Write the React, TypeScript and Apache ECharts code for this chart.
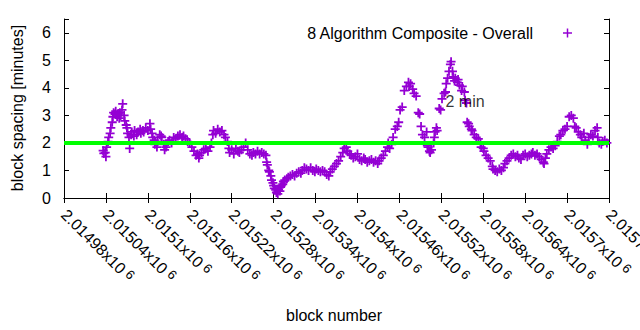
import React, { useEffect, useRef } from "react";
import * as echarts from "echarts";

// ---- data ----
const blocks = [
  2015036, 2015037, 2015039, 2015040, 2015041, 2015043, 2015044, 2015046, 2015047, 2015049,
  2015050, 2015051, 2015053, 2015054, 2015056, 2015057, 2015059, 2015060, 2015061, 2015063,
  2015064, 2015066, 2015067, 2015069, 2015070, 2015071, 2015073, 2015074, 2015076, 2015077,
  2015080, 2015081, 2015084, 2015086, 2015089, 2015090, 2015093, 2015094, 2015097, 2015100,
  2015103, 2015104, 2015106, 2015107, 2015109, 2015110, 2015111, 2015113, 2015114, 2015117,
  2015119, 2015120, 2015123, 2015124, 2015126, 2015127, 2015129, 2015131, 2015134, 2015137,
  2015140, 2015143, 2015146, 2015149, 2015151, 2015154, 2015157, 2015160, 2015163, 2015166,
  2015169, 2015171, 2015173, 2015174, 2015177, 2015180, 2015183, 2015186, 2015189, 2015191,
  2015193, 2015194, 2015197, 2015200, 2015203, 2015206, 2015209, 2015211, 2015214, 2015216,
  2015217, 2015220, 2015223, 2015226, 2015229, 2015231, 2015234, 2015237, 2015240, 2015243,
  2015246, 2015249, 2015251, 2015254, 2015257, 2015260, 2015263, 2015266, 2015269, 2015270,
  2015271, 2015273, 2015274, 2015276, 2015277, 2015279, 2015280, 2015281, 2015283, 2015284,
  2015286, 2015287, 2015289, 2015290, 2015291, 2015293, 2015294, 2015296, 2015299, 2015301,
  2015304, 2015307, 2015310, 2015313, 2015316, 2015319, 2015321, 2015324, 2015327, 2015330,
  2015333, 2015336, 2015339, 2015341, 2015344, 2015347, 2015350, 2015353, 2015356, 2015359,
  2015361, 2015364, 2015367, 2015370, 2015373, 2015376, 2015379, 2015381, 2015384, 2015386,
  2015389, 2015391, 2015394, 2015397, 2015400, 2015403, 2015406, 2015409, 2015411, 2015414,
  2015417, 2015420, 2015423, 2015426, 2015429, 2015431, 2015434, 2015437, 2015440, 2015443,
  2015444, 2015446, 2015449, 2015451, 2015454, 2015457, 2015459, 2015461, 2015464, 2015467,
  2015470, 2015473, 2015474, 2015476, 2015479, 2015481, 2015484, 2015487, 2015489, 2015491,
  2015493, 2015496, 2015499, 2015500, 2015501, 2015503, 2015504, 2015506, 2015509, 2015510,
  2015511, 2015513, 2015514, 2015517, 2015519, 2015521, 2015524, 2015526, 2015527, 2015529,
  2015531, 2015533, 2015534, 2015536, 2015537, 2015539, 2015540, 2015543, 2015544, 2015546,
  2015549, 2015550, 2015553, 2015554, 2015556, 2015557, 2015559, 2015560, 2015563, 2015564,
  2015567, 2015570, 2015573, 2015576, 2015577, 2015580, 2015581, 2015584, 2015587, 2015590,
  2015593, 2015594, 2015597, 2015600, 2015603, 2015606, 2015609, 2015611, 2015614, 2015617,
  2015620, 2015623, 2015626, 2015629, 2015631, 2015634, 2015637, 2015640, 2015643, 2015646,
  2015649, 2015651, 2015654, 2015657, 2015660, 2015663, 2015666, 2015667, 2015669, 2015671,
  2015674, 2015677, 2015680, 2015683, 2015686, 2015689, 2015691, 2015694, 2015697, 2015700,
  2015703, 2015706, 2015709, 2015711, 2015713, 2015716, 2015719, 2015721, 2015724, 2015726,
  2015729, 2015731, 2015734, 2015737, 2015740, 2015743, 2015744, 2015746, 2015749, 2015751,
  2015754, 2015757,
];

const spacing = [
  1.72, 1.62, 1.65, 1.5, 1.85, 2.05, 2.2, 2.35, 2.55, 2.75,
  2.95, 3.1, 3.05, 3.15, 2.95, 3.05, 2.9, 3.1, 3.0, 3.2,
  3.42, 3.0, 2.8, 2.65, 2.55, 2.35, 2.2, 1.8, 2.3, 2.4,
  2.25, 2.45, 2.3, 2.4, 2.5, 2.35, 2.45, 2.4, 2.55, 2.45,
  2.7, 2.5, 2.35, 2.2, 2.1, 1.95, 2.05, 1.85, 2.05, 2.3,
  2.25, 2.2, 1.95, 1.75, 1.85, 1.95, 2.05, 2.1, 2.0, 2.2,
  2.15, 2.25, 2.3, 2.2, 2.25, 2.15, 2.05, 2.0, 1.85, 1.7,
  1.55, 1.6, 1.45, 1.55, 1.65, 1.75, 1.8, 1.7, 1.85, 2.0,
  2.3, 2.45, 2.35, 2.5, 2.4, 2.45, 2.3, 2.2, 2.05, 1.8,
  1.65, 1.75, 1.6, 1.8, 1.7, 1.65, 1.75, 1.85, 2.0, 1.75,
  1.6, 1.55, 1.65, 1.6, 1.7, 1.6, 1.65, 1.6, 1.55, 1.3,
  1.2, 1.0, 0.95, 0.8, 0.65, 0.55, 0.45, 0.35, 0.3, 0.2,
  0.15, 0.3, 0.25, 0.4, 0.45, 0.5, 0.6, 0.65, 0.7, 0.75,
  0.8, 0.85, 0.8, 0.9, 0.95, 0.9, 1.0, 1.1, 1.05, 1.0,
  1.1, 1.0, 0.95, 1.05, 1.0, 0.95, 1.0, 0.95, 0.85, 0.8,
  0.95, 1.05, 1.15, 1.25, 1.35, 1.5, 1.65, 1.8, 1.85, 1.7,
  1.6, 1.55, 1.45, 1.5, 1.6, 1.4, 1.35, 1.45, 1.4, 1.3,
  1.35, 1.4, 1.3, 1.35, 1.25, 1.35, 1.45, 1.55, 1.7, 1.85,
  2.0, 1.8, 1.95, 2.2, 2.5, 2.6, 2.75, 3.2, 3.3, 3.9,
  4.05, 4.2, 4.05, 4.15, 3.95, 3.8, 3.7, 3.1, 3.05, 2.6,
  2.3, 2.2, 2.4, 1.9, 1.85, 1.7, 1.65, 1.75, 2.0, 2.2,
  2.4, 2.55, 2.45, 3.25, 3.2, 3.6, 3.8, 3.85, 4.15, 4.35,
  4.6, 4.85, 4.95, 4.6, 4.4, 4.25, 4.35, 4.2, 4.3, 4.1,
  3.9, 4.05, 3.85, 3.55, 3.45, 2.75, 2.7, 2.6, 2.5, 2.45,
  2.3, 2.2, 2.15, 2.0, 1.85, 1.8, 1.7, 1.55, 1.45, 1.35,
  1.15, 1.05, 1.0, 0.95, 1.05, 1.0, 1.1, 1.25, 1.35, 1.45,
  1.55, 1.6, 1.5, 1.55, 1.45, 1.4, 1.55, 1.6, 1.5, 1.55,
  1.6, 1.65, 1.55, 1.6, 1.5, 1.4, 1.3, 1.25, 1.45, 1.6,
  1.75, 1.85, 1.8, 1.9, 2.05, 2.25, 2.3, 2.45, 2.5, 2.6,
  2.95, 3.0, 2.9, 2.6, 2.55, 2.4, 2.3, 2.2, 2.35, 2.1,
  1.95, 2.2, 2.3, 2.25, 2.45, 2.55, 2.2, 2.0, 1.95, 2.05,
  2.1, 2.0,
];

const xTickLabels = [
  "2.01498", "2.01504", "2.0151", "2.01516", "2.01522", "2.01528", "2.01534",
  "2.0154", "2.01546", "2.01552", "2.01558", "2.01564", "2.0157", "2.01576",
];
const xMin = 2014980;
const xMax = 2015760;
const xStep = 60;
const yMin = 0;
const yMax = 6.5;

const targetSpacing = 2;
const seriesName = "8 Algorithm Composite - Overall";
const noteText = "2 min";
const notePoint = [2015526, 3.5];
const xName = "block number";
const yName = "block spacing [minutes]";

const FONT = "'Liberation Sans', Arial, Helvetica, sans-serif";
const PURPLE = "#9400D3";
const GREEN = "#00FF00";
const PLUS = "path://M4,0L6,0L6,4L10,4L10,6L6,6L6,10L4,10L4,6L0,6L0,4L4,4Z";

export default function App() {
  const ref = useRef<HTMLDivElement>(null);

  useEffect(() => {
    if (!ref.current) return;
    const chart = echarts.init(ref.current, null, { renderer: "svg" });

    const axisLine = { show: true, lineStyle: { color: "#000", width: 1 } };
    const tick = { show: true, inside: true, length: 5, lineStyle: { color: "#000", width: 1 } };

    chart.setOption({
      animation: false,
      backgroundColor: "#fff",
      grid: {
        left: 64,
        right: 31,
        top: 19,
        bottom: 132,
        containLabel: false,
        outerBoundsMode: "none",
      },
      xAxis: [
        {
          type: "value",
          position: "bottom",
          min: xMin,
          max: xMax,
          interval: xStep,
          axisLine,
          axisTick: tick,
          splitLine: { show: false },
          axisLabel: {
            rotate: -45,
            margin: 14,
            color: "#000",
            fontSize: 16,
            fontFamily: FONT,
            formatter: (v: number) => {
              const i = Math.round((v - xMin) / xStep);
              const t = xTickLabels[i];
              return t ? `{a|${t}x10}{s|6}` : "";
            },
            rich: {
              a: { fontSize: 16, fontFamily: FONT, color: "#000", lineHeight: 18 },
              s: { fontSize: 13, fontFamily: FONT, color: "#000", verticalAlign: "top", lineHeight: 13, padding: [0, 0, 0, 4] },
            },
          },
        },
        {
          type: "value",
          position: "top",
          min: xMin,
          max: xMax,
          interval: xStep,
          axisLine,
          axisTick: tick,
          axisLabel: { show: false },
          splitLine: { show: false },
        },
      ],
      yAxis: [
        {
          type: "value",
          position: "left",
          min: yMin,
          max: yMax,
          interval: 1,
          axisLine,
          axisTick: tick,
          splitLine: { show: false },
          axisLabel: {
            margin: 13,
            color: "#000",
            fontSize: 16,
            fontFamily: FONT,
            formatter: (v: number) => (Number.isInteger(v) ? String(v) : ""),
          },
        },
        {
          type: "value",
          position: "right",
          min: yMin,
          max: yMax,
          interval: 1,
          axisLine,
          axisTick: tick,
          axisLabel: { show: false },
          splitLine: { show: false },
        },
      ],
      series: [
        {
          name: seriesName,
          type: "scatter",
          data: blocks.map((b, i) => [b, spacing[i]]),
          symbol: PLUS,
          symbolSize: 9,
          itemStyle: { color: PURPLE, opacity: 1 },
          z: 2,
          silent: true,
        },
        {
          type: "line",
          data: [
            [xMin, targetSpacing],
            [xMax, targetSpacing],
          ],
          showSymbol: false,
          symbol: "none",
          lineStyle: { color: GREEN, width: 4 },
          z: 3,
          silent: true,
        },
        {
          type: "scatter",
          data: [notePoint],
          symbolSize: 0,
          z: 4,
          silent: true,
          label: {
            show: true,
            position: "right",
            distance: 0,
            formatter: noteText,
            color: "#000",
            fontSize: 16,
            fontFamily: FONT,
          },
        },
      ],
      graphic: [
        {
          type: "text",
          x: 533,
          y: 33,
          z: 10,
          style: {
            text: seriesName,
            fill: "#000",
            fontSize: 16,
            fontFamily: FONT,
            align: "right",
            verticalAlign: "middle",
          },
        },
        {
          type: "line",
          z: 10,
          shape: { x1: 563, y1: 33, x2: 572, y2: 33 },
          style: { stroke: PURPLE, lineWidth: 1.5 },
        },
        {
          type: "line",
          z: 10,
          shape: { x1: 567.5, y1: 28.5, x2: 567.5, y2: 37.5 },
          style: { stroke: PURPLE, lineWidth: 1.5 },
        },
        {
          type: "text",
          x: 17,
          y: 108,
          rotation: Math.PI / 2,
          style: {
            text: yName,
            fill: "#000",
            fontSize: 16,
            fontFamily: FONT,
            align: "center",
            verticalAlign: "middle",
          },
        },
        {
          type: "text",
          x: 334,
          y: 315,
          style: {
            text: xName,
            fill: "#000",
            fontSize: 16,
            fontFamily: FONT,
            align: "center",
            verticalAlign: "middle",
          },
        },
      ],
    });

    return () => chart.dispose();
  }, []);

  return (
    <div
      ref={ref}
      style={{ position: "fixed", left: 0, top: 0, width: 640, height: 330, background: "#fff" }}
    />
  );
}
